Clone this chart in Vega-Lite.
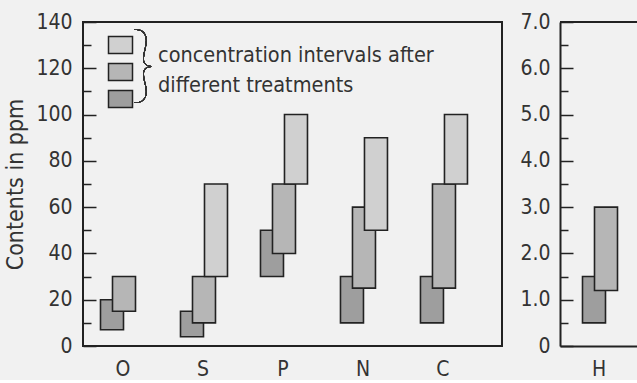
{
  "$schema": "https://vega.github.io/schema/vega-lite/v6.json",
  "background": "#f1f1f1",
  "padding": {"left": 3, "top": 10, "right": 0, "bottom": 0},
  "config": {
    "font": "DejaVu Sans Condensed, DejaVu Sans, sans-serif",
    "view": {"stroke": null},
    "axis": {
      "labelFont": "DejaVu Sans Condensed, DejaVu Sans, sans-serif", "labelFontSize": 21, "labelColor": "#333",
      "titleFont": "DejaVu Sans Condensed, DejaVu Sans, sans-serif", "titleFontSize": 23, "titleFontWeight": "normal", "titleColor": "#333",
      "domainColor": "#222", "domainWidth": 2, "tickColor": "#222", "tickWidth": 1.5, "grid": false
    },
    "concat": {"spacing": 16}
  },
  "resolve": {"legend": {"fill": "independent"}, "scale": {"xOffset": "independent"}},
  "hconcat": [
    {
      "width": 419,
      "height": 324,
      "view": {"stroke": "#222", "strokeWidth": 2},
      "data": {"values": [
        {"cat": "O", "t": "T1", "lo": 7, "hi": 20},
        {"cat": "O", "t": "T2", "lo": 15, "hi": 30},
        {"cat": "S", "t": "T1", "lo": 4, "hi": 15},
        {"cat": "S", "t": "T2", "lo": 10, "hi": 30},
        {"cat": "S", "t": "T3", "lo": 30, "hi": 70},
        {"cat": "P", "t": "T1", "lo": 30, "hi": 50},
        {"cat": "P", "t": "T2", "lo": 40, "hi": 70},
        {"cat": "P", "t": "T3", "lo": 70, "hi": 100},
        {"cat": "N", "t": "T1", "lo": 10, "hi": 30},
        {"cat": "N", "t": "T2", "lo": 25, "hi": 60},
        {"cat": "N", "t": "T3", "lo": 50, "hi": 90},
        {"cat": "C", "t": "T1", "lo": 10, "hi": 30},
        {"cat": "C", "t": "T2", "lo": 25, "hi": 70},
        {"cat": "C", "t": "T3", "lo": 70, "hi": 100}
      ]},
      "resolve": {"axis": {"y": "independent"}},
      "layer": [
        {
          "mark": {"type": "bar", "width": 23, "stroke": "#222", "strokeWidth": 1.6},
          "encoding": {
            "x": {
              "field": "cat", "type": "nominal", "sort": ["O", "S", "P", "N", "C"],
              "scale": {"paddingInner": 0, "paddingOuter": 0.119, "align": 0},
              "axis": {"title": null, "labelAngle": 0, "ticks": false, "domain": false, "labelPadding": 12}
            },
            "xOffset": {"field": "t", "type": "nominal", "scale": {"type": "point", "domain": ["T1", "T2", "T3"], "range": [29, 53], "padding": 0}},
            "y": {
              "field": "lo", "type": "quantitative", "scale": {"domain": [0, 140]},
              "axis": {
                "orient": "left",
                "title": "Contents in ppm", "titlePadding": 8,
                "values": [0, 20, 40, 60, 80, 100, 120, 140],
                "tickSize": -13, "labelPadding": 24, "domain": false
              }
            },
            "y2": {"field": "hi"},
            "fill": {
              "field": "t", "type": "nominal",
              "scale": {"domain": ["T3", "T2", "T1"], "range": ["#d0d0d0", "#b6b6b6", "#9e9e9e"]},
              "legend": {
                "orient": "top-left", "offset": 9.5, "padding": 0,
                "symbolType": "M-1,-0.7H1V0.7H-1Z", "symbolSize": 576,
                "symbolStrokeColor": "#222", "symbolStrokeWidth": 1.5, "symbolOffset": 14.5,
                "title": ["concentration intervals after", "different treatments"],
                "titleOrient": "right", "titleFont": "DejaVu Sans Condensed, DejaVu Sans, sans-serif", "titleFontSize": 21.5,
                "titleFontWeight": "normal", "titleColor": "#333", "titleLineHeight": 30, "titleLimit": 500,
                "titlePadding": 22, "titleAnchor": "middle",
                "labelExpr": "''", "labelFontSize": 10, "labelOffset": 0, "rowPadding": 2
              }
            }
          }
        },
        {
          "mark": {"type": "text", "text": "}", "font": "Lato, DejaVu Sans", "fontWeight": 100, "fontSize": 84, "color": "#333", "align": "center", "baseline": "middle", "dx": 20},
          "encoding": {
            "x": {"datum": "O"},
            "y": {
              "datum": 120, "type": "quantitative",
              "axis": {
                "orient": "left", "title": null, "labels": false, "domain": false,
                "values": [10, 30, 50, 70, 90, 110, 130], "tickSize": -8
              }
            }
          }
        }
      ]
    },
    {
      "width": 78,
      "height": 324,
      "data": {"values": [
        {"cat": "H", "t": "T1", "lo": 0.5, "hi": 1.5},
        {"cat": "H", "t": "T2", "lo": 1.2, "hi": 3.0}
      ]},
      "resolve": {"axis": {"y": "independent"}},
      "layer": [
        {
          "mark": {"type": "bar", "width": 23, "stroke": "#222", "strokeWidth": 1.6},
          "encoding": {
            "x": {
              "field": "cat", "type": "nominal",
              "scale": {"paddingInner": 0, "paddingOuter": 0},
              "axis": {"title": null, "labelAngle": 0, "ticks": false, "labelPadding": 12}
            },
            "xOffset": {"field": "t", "type": "nominal", "scale": {"type": "point", "domain": ["T1", "T2", "T3"], "range": [34, 58], "padding": 0}},
            "y": {
              "field": "lo", "type": "quantitative", "scale": {"domain": [0, 7]},
              "axis": {
                "orient": "left", "title": null,
                "values": [0, 1, 2, 3, 4, 5, 6, 7],
                "labelExpr": "datum.value === 0 ? '0' : format(datum.value, '.1f')",
                "tickSize": -13, "labelPadding": 23
              }
            },
            "y2": {"field": "hi"},
            "fill": {
              "field": "t", "type": "nominal",
              "scale": {"domain": ["T3", "T2", "T1"], "range": ["#d0d0d0", "#b6b6b6", "#9e9e9e"]},
              "legend": null
            }
          }
        },
        {
          "mark": {"type": "rule", "stroke": "#222", "strokeWidth": 2},
          "encoding": {
            "y": {
              "datum": 7, "type": "quantitative",
              "axis": {
                "orient": "left", "title": null, "labels": false, "domain": false,
                "values": [0.5, 1.5, 2.5, 3.5, 4.5, 5.5, 6.5], "tickSize": -8
              }
            }
          }
        }
      ]
    }
  ]
}
